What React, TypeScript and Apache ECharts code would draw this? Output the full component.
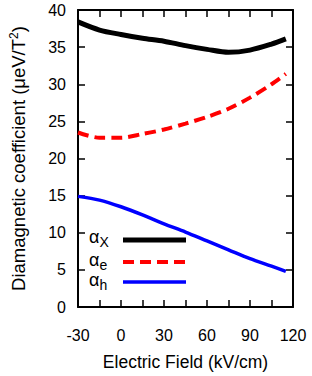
import React, { useEffect, useRef } from "react";
import * as echarts from "echarts";

const fieldX = [-30, -15, 0, 15, 30, 45, 60, 75, 90, 105, 115];
const alphaX = [38.4, 37.3, 36.7, 36.2, 35.8, 35.2, 34.7, 34.3, 34.6, 35.4, 36.1];
const alphaE = [23.5, 22.8, 22.8, 23.3, 23.9, 24.7, 25.6, 26.7, 28.2, 30.0, 31.4];
const alphaH = [14.9, 14.4, 13.5, 12.4, 11.2, 10.1, 8.9, 7.7, 6.5, 5.5, 4.8];
const xTickLabels = ["-30", "0", "30", "60", "90", "120"];

const FONT = "Liberation Sans, Arial, sans-serif";

export default function App() {
  const ref = useRef<HTMLDivElement>(null);
  useEffect(() => {
    if (!ref.current) return;
    const chart = echarts.init(ref.current, undefined, { renderer: "svg" });
    const pair = (ys: number[]) => fieldX.map((x, i) => [x, ys[i]]);
    const tickStyle = { inside: true, length: 7, lineStyle: { color: "#000", width: 1.5 } };
    const axisLine = { show: true, onZero: false, lineStyle: { color: "#000", width: 2 } };
    chart.setOption({
      animation: false,
      backgroundColor: "#fff",
      grid: { left: 72, right: 19, top: 10, bottom: 67, containLabel: false },
      xAxis: [
        {
          type: "value",
          min: -30,
          max: 120,
          interval: 15,
          axisLine,
          axisTick: tickStyle,
          splitLine: { show: false },
          axisLabel: {
            margin: 20,
            fontSize: 16,
            fontFamily: FONT,
            color: "#000",
            formatter: (v: number) => (xTickLabels.includes(String(v)) ? String(v) : ""),
          },
          name: "Electric Field (kV/cm)",
          nameLocation: "middle",
          nameGap: 46,
          nameTextStyle: { fontSize: 17.5, fontFamily: FONT, color: "#000" },
        },
        {
          type: "value",
          position: "top",
          min: -30,
          max: 120,
          interval: 15,
          axisLine,
          axisTick: tickStyle,
          axisLabel: { show: false },
          splitLine: { show: false },
        },
      ],
      yAxis: [
        {
          type: "value",
          min: 0,
          max: 40,
          interval: 5,
          axisLine,
          axisTick: tickStyle,
          splitLine: { show: false },
          axisLabel: { margin: 12, fontSize: 16, fontFamily: FONT, color: "#000" },
          name: "Diamagnetic coefficient (μeV/T{sup|2})",
          nameLocation: "middle",
          nameGap: 49,
          nameRotate: 90,
          nameTextStyle: {
            fontSize: 18.5,
            fontFamily: FONT,
            color: "#000",
            rich: {
              sup: { fontSize: 12, fontFamily: FONT, color: "#000", verticalAlign: "top", padding: [0, 0, 9, 0] },
            },
          },
        },
        {
          type: "value",
          position: "right",
          min: 0,
          max: 40,
          interval: 5,
          axisLine,
          axisTick: tickStyle,
          axisLabel: { show: false },
          splitLine: { show: false },
        },
      ],
      series: [
        {
          type: "line",
          name: "αX",
          data: pair(alphaX),
          smooth: 0.3,
          showSymbol: false,
          lineStyle: { color: "#000", width: 5 },
        },
        {
          type: "line",
          name: "αe",
          data: pair(alphaE),
          smooth: 0.3,
          showSymbol: false,
          lineStyle: { color: "#ff0000", width: 4, type: [11, 6] },
        },
        {
          type: "line",
          name: "αh",
          data: pair(alphaH),
          smooth: 0.3,
          showSymbol: false,
          lineStyle: { color: "#0000ff", width: 3.5 },
        },
      ],
      graphic: [
        {
          type: "text",
          left: 89,
          top: 228,
          style: {
            text: "α{s|X}",
            font: `18px ${FONT}`,
            fill: "#000",
            rich: { s: { fontSize: 14, fontFamily: FONT, fill: "#000", padding: [10, 0, 0, 0] } },
          },
        },
        {
          type: "text",
          left: 89,
          top: 251,
          style: {
            text: "α{s|e}",
            font: `18px ${FONT}`,
            fill: "#000",
            rich: { s: { fontSize: 14, fontFamily: FONT, fill: "#000", padding: [10, 0, 0, 0] } },
          },
        },
        {
          type: "text",
          left: 89,
          top: 271,
          style: {
            text: "α{s|h}",
            font: `18px ${FONT}`,
            fill: "#000",
            rich: { s: { fontSize: 14, fontFamily: FONT, fill: "#000", padding: [10, 0, 0, 0] } },
          },
        },
        { type: "line", shape: { x1: 123, y1: 240, x2: 186, y2: 240 }, style: { stroke: "#000", lineWidth: 5 } },
        {
          type: "line",
          shape: { x1: 123, y1: 262, x2: 186, y2: 262 },
          style: { stroke: "#ff0000", lineWidth: 4, lineDash: [11, 6] },
        },
        { type: "line", shape: { x1: 123, y1: 282, x2: 186, y2: 282 }, style: { stroke: "#0000ff", lineWidth: 3.5 } },
      ],
    });
    return () => chart.dispose();
  }, []);
  return <div ref={ref} style={{ width: 312, height: 376, position: "fixed", left: 0, top: 0 }} />;
}
